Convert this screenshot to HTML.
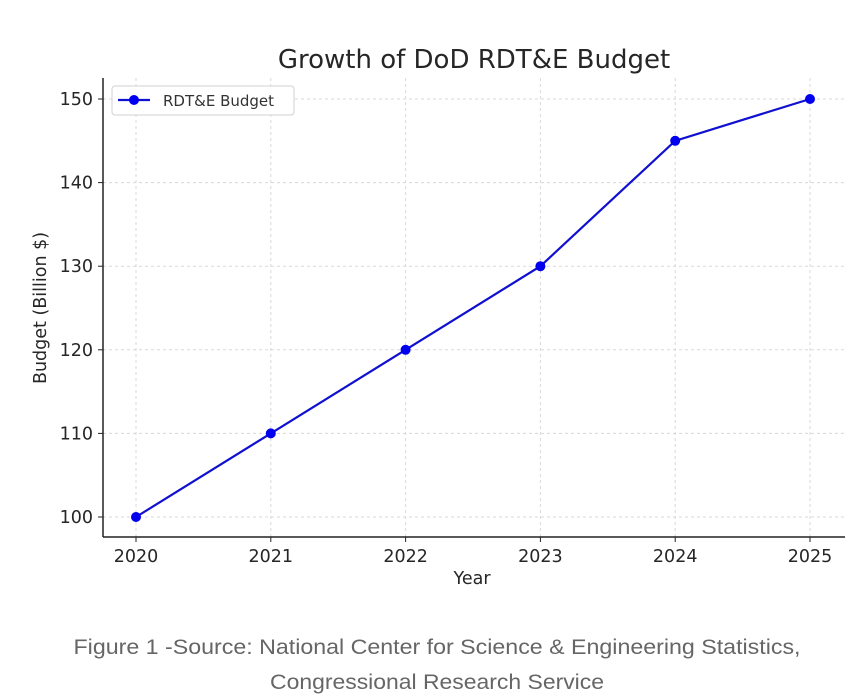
<!DOCTYPE html>
<html><head><meta charset="utf-8"><style>
body{margin:0;background:#fff;}
svg{display:block;font-family:"DejaVu Sans","Liberation Sans",sans-serif;}
</style></head><body>
<svg id="chart" width="851" height="695">
<text x="474" y="68" font-size="26" fill="#262626" text-anchor="middle">Growth of DoD RDT&amp;E Budget</text>
<g id="grid"></g>
<g id="axes"></g>
<g id="series"></g>
<text x="472" y="584" font-size="17.5" fill="#262626" text-anchor="middle">Year</text>
<text transform="translate(46,308) rotate(-90)" font-size="17.5" fill="#262626" text-anchor="middle">Budget (Billion $)</text>
<g>
<rect x="112" y="86" width="182" height="29" rx="3" fill="#fff" stroke="#d0d0d0"/>
<line x1="118" y1="100" x2="150" y2="100" stroke="#1010d0" stroke-width="2.2"/>
<circle cx="134" cy="100" r="5" fill="#0000ee"/>
<text x="163" y="106" font-size="15" fill="#333">RDT&amp;E Budget</text>
</g>
<text x="437" y="654" font-size="21" fill="#666" text-anchor="middle" font-family="Liberation Sans,sans-serif" textLength="727" lengthAdjust="spacingAndGlyphs">Figure 1 -Source: National Center for Science &amp; Engineering Statistics,</text>
<text x="437" y="689" font-size="21" fill="#666" text-anchor="middle" font-family="Liberation Sans,sans-serif" textLength="334" lengthAdjust="spacingAndGlyphs">Congressional Research Service</text>
</svg>
<script>
const years=[2020,2021,2022,2023,2024,2025];
const budget=[100,110,120,130,145,150];
const yTicks=[100,110,120,130,140,150];
const NS="http://www.w3.org/2000/svg";
const L=103,R=845,T=78,B=537;
function xs(v){return 136+(v-2020)*(810-136)/5;}
function ys(v){return 517-(v-100)*(517-99)/50;}
function mk(t,a,p){const e=document.createElementNS(NS,t);for(const k in a)e.setAttribute(k,a[k]);p.appendChild(e);return e;}
const grid=document.getElementById('grid'),axes=document.getElementById('axes'),ser=document.getElementById('series');
years.forEach(y=>{
 const g=mk('line',{x1:xs(y),x2:xs(y),y1:T,y2:B,stroke:'#d8d8d8','stroke-dasharray':'3,3'},grid);
 
 
 const t=mk('line',{x1:xs(y),x2:xs(y),y1:B,y2:B+5,stroke:'#222'},axes);
 
 
 const l=mk('text',{x:xs(y),y:B+25,'font-size':17.5,fill:'#262626','text-anchor':'middle'},axes);
 l.textContent=y;
 
 
});
yTicks.forEach(v=>{
 const g=mk('line',{x1:L,x2:R,y1:ys(v),y2:ys(v),stroke:'#d8d8d8','stroke-dasharray':'3,3'},grid);
 
 
 const t=mk('line',{x1:L-5,x2:L,y1:ys(v),y2:ys(v),stroke:'#222'},axes);
 
 
 const l=mk('text',{x:L-10,y:ys(v)+6,'font-size':17.5,fill:'#262626','text-anchor':'end'},axes);
 l.textContent=v;
 
 
});
const ya=mk('line',{x1:L,x2:L,y1:T,y2:B,stroke:'#222','stroke-width':1.5},axes);


const xa=mk('line',{x1:L,x2:R,y1:B,y2:B,stroke:'#222','stroke-width':1.5},axes);


const pl=mk('polyline',{points:years.map((y,i)=>xs(y)+','+ys(budget[i])).join(' '),fill:'none',stroke:'#1010d0','stroke-width':2.2},ser);


years.forEach((y,i)=>{
 const c=mk('circle',{cx:xs(y),cy:ys(budget[i]),r:5,fill:'#0000ee'},ser);
 
 
});
</script>
</body></html>
